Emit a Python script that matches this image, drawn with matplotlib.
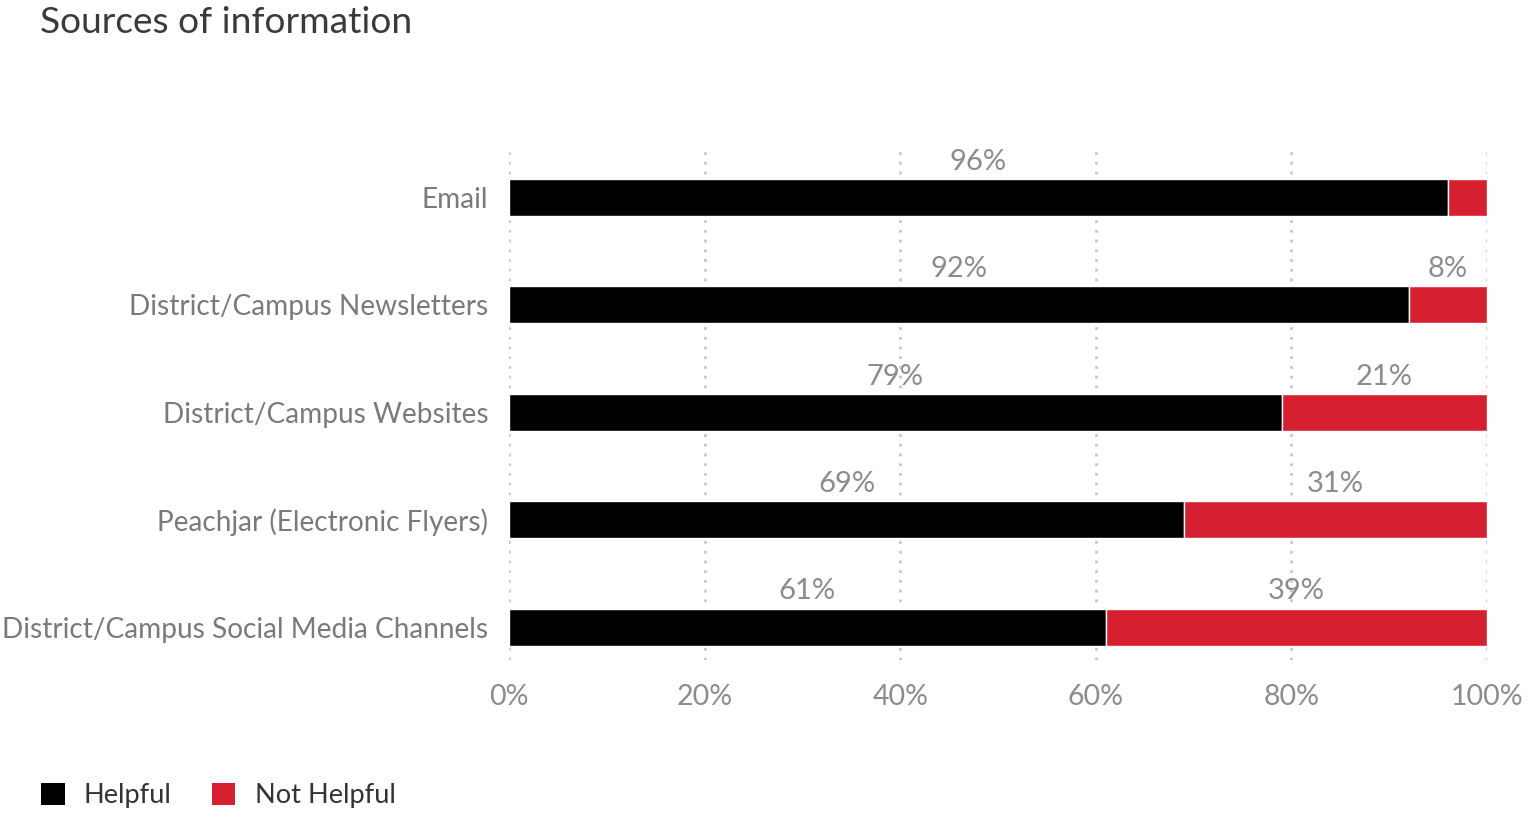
# -*- coding: utf-8 -*-
"""
Stacked horizontal bar chart: sources of information, helpful vs not helpful
"""

import numpy as np
import matplotlib.pyplot as plt
from matplotlib.patches import Patch

plt.rcParams['font.family'] = ['Lato', 'DejaVu Sans']

# survey results in percent
sources = ['Email', 'District/Campus Newsletters', 'District/Campus Websites',
           'Peachjar (Electronic Flyers)', 'District/Campus Social Media Channels']
helpful = np.array([96, 92, 79, 69, 61])
not_helpful = np.array([4, 8, 21, 31, 39])
ticks = [0, 20, 40, 60, 80, 100]

black = '#000000'
red = '#d7202f'
grey = '#8c8c8c'

fig = plt.figure(figsize=(15.37, 8.22), dpi=100)
ax = fig.add_axes([0.3312, 0.197, 0.6363, 0.620])

y = np.arange(len(sources))
h = 0.345
ax.barh(y, helpful, height=h, color=black, edgecolor='white', linewidth=1, zorder=3)
ax.barh(y, not_helpful, left=helpful, height=h, color=red, edgecolor='white',
        linewidth=1, zorder=3)

# value labels centred above each segment (small ones are skipped)
for i in range(len(sources)):
    for left, val in ((0, helpful[i]), (helpful[i], not_helpful[i])):
        if val < 5:
            continue
        ax.annotate('{:d}%'.format(val), xy=(left + val / 2, y[i] - h / 2),
                    xytext=(0, 3), textcoords='offset points',
                    ha='center', va='bottom', fontsize=21, color=grey)

ax.set_xlim(0, 100)
ax.set_ylim(4.307, -0.437)
ax.set_xticks(ticks)
ax.set_xticklabels(['{:d}%'.format(t) for t in ticks], fontsize=20.5, color=grey)
ax.set_yticks(y)
ax.set_yticklabels(sources, fontsize=20.2, color='#7a7a7a')
ax.tick_params(length=0)
ax.tick_params(axis='x', pad=17)
ax.tick_params(axis='y', pad=15)
for s in ax.spines.values():
    s.set_visible(False)
ax.grid(axis='x', color='#c8c8c8', linestyle=(0, (1, 2.5)), linewidth=2, zorder=0)

fig.text(0.026, 0.973, 'Sources of information', fontsize=26.7, color='#3a3a3a',
         ha='left', va='center')

handles = [Patch(facecolor=black, label='Helpful'),
           Patch(facecolor=red, label='Not Helpful')]
fig.legend(handles=handles, loc='center left', bbox_to_anchor=(0.011, 0.032),
           ncol=2, frameon=False, fontsize=19.6, handlelength=0.85, handleheight=0.85,
           handletextpad=0.7, columnspacing=1.5, labelcolor='#333333')

plt.savefig('out.png')
